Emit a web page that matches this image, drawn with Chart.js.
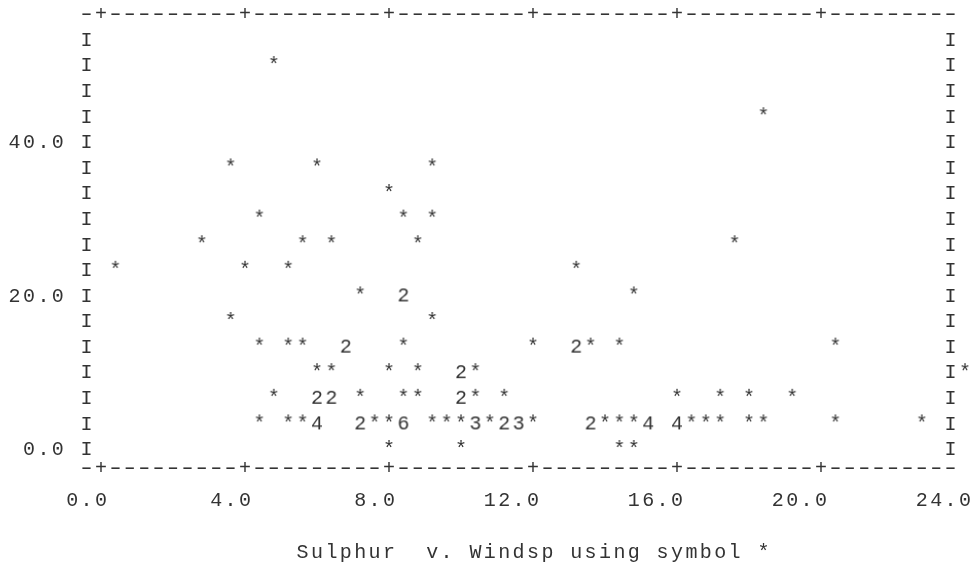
<!DOCTYPE html>
<html>
<head>
<meta charset="utf-8">
<script src="https://cdn.jsdelivr.net/npm/chart.js@4/dist/chart.umd.min.js"></script>
<style>
  html, body { margin: 0; padding: 0; background: #fff; }
  #wrap { width: 973px; height: 564px; }
</style>
</head>
<body>
<div id="wrap"><canvas id="plotChart"></canvas></div>
<script>
// one entry per observation (wind speed, sulphur)
var windsp = [
  4.8,
  18.4,
  3.6, 6.0, 9.2,
  8.0,
  4.4, 8.4, 9.2,
  2.8, 5.6, 6.4, 8.8, 17.6,
  0.4, 4.0, 5.2, 13.2,
  7.2, 8.4, 8.4, 14.8,
  3.6, 9.2,
  4.4, 5.2, 5.6, 6.8, 6.8, 8.4, 12.0, 13.2, 13.2, 13.6, 14.4, 20.4,
  6.0, 6.4, 8.0, 8.8, 10.0, 10.0, 10.4, 24.0,
  4.8, 6.0, 6.0, 6.4, 6.4, 7.2, 8.4, 8.8, 10.0, 10.0, 10.4, 11.2, 16.0, 17.2, 18.0, 19.2,
  4.4, 5.2, 5.6, 6.0, 6.0, 6.0, 6.0, 7.2, 7.2, 7.6, 8.0, 8.4, 8.4, 8.4, 8.4, 8.4, 8.4,
  9.2, 9.6, 10.0, 10.4, 10.4, 10.4, 10.8, 11.2, 11.2, 11.6, 11.6, 11.6, 12.0,
  13.6, 13.6, 14.0, 14.4, 14.8, 15.2, 15.2, 15.2, 15.2, 16.0, 16.0, 16.0, 16.0,
  16.4, 16.8, 17.2, 18.0, 18.4, 20.4, 22.8,
  8.0, 10.0, 14.4, 14.8
];
var sulphur = [
  50.0,
  43.3,
  36.7, 36.7, 36.7,
  33.3,
  30.0, 30.0, 30.0,
  26.7, 26.7, 26.7, 26.7, 26.7,
  23.3, 23.3, 23.3, 23.3,
  20.0, 20.0, 20.0, 20.0,
  16.7, 16.7,
  13.3, 13.3, 13.3, 13.3, 13.3, 13.3, 13.3, 13.3, 13.3, 13.3, 13.3, 13.3,
  10.0, 10.0, 10.0, 10.0, 10.0, 10.0, 10.0, 10.0,
  6.7, 6.7, 6.7, 6.7, 6.7, 6.7, 6.7, 6.7, 6.7, 6.7, 6.7, 6.7, 6.7, 6.7, 6.7, 6.7,
  3.3, 3.3, 3.3, 3.3, 3.3, 3.3, 3.3, 3.3, 3.3, 3.3, 3.3, 3.3, 3.3, 3.3, 3.3, 3.3, 3.3,
  3.3, 3.3, 3.3, 3.3, 3.3, 3.3, 3.3, 3.3, 3.3, 3.3, 3.3, 3.3, 3.3,
  3.3, 3.3, 3.3, 3.3, 3.3, 3.3, 3.3, 3.3, 3.3, 3.3, 3.3, 3.3, 3.3,
  3.3, 3.3, 3.3, 3.3, 3.3, 3.3, 3.3,
  0.0, 0.0, 0.0, 0.0
];
var xTicks = [0, 4, 8, 12, 16, 20, 24];
var xTickLabels = ['0.0', '4.0', '8.0', '12.0', '16.0', '20.0', '24.0'];
var yTicks = [0, 20, 40];
var yTickLabels = ['0.0', '20.0', '40.0'];
var title = 'Sulphur  v. Windsp using symbol *';

// line-printer grid: one column is 0.4 wind units, one line is 10/3 sulphur units
var X_STEP = 0.4;
var Y_STEP = 10 / 3;
var Y_TOP = 160 / 3;
var LAST_COL = 59;
var LAST_ROW = 16;
var FONT = '20px "Courier New", "Liberation Mono", monospace';
var INK = '#333';

// bin observations into print cells; repeats show as a count
var cells = {};
windsp.forEach(function (w, i) {
  var col = Math.round(w / X_STEP);
  var row = Math.round((Y_TOP - sulphur[i]) / Y_STEP);
  var key = col + ':' + row;
  if (!cells[key]) cells[key] = { x: col * X_STEP, y: Y_TOP - row * Y_STEP, n: 0 };
  cells[key].n++;
});
var points = Object.keys(cells).map(function (k) { return cells[k]; });

var glyphCache = {};
function glyph(ch) {
  if (!glyphCache[ch]) {
    var c = document.createElement('canvas');
    c.width = 16;
    c.height = 26;
    var g = c.getContext('2d');
    g.font = FONT;
    g.fillStyle = INK;
    g.textAlign = 'center';
    g.textBaseline = 'middle';
    g.fillText(ch, 8, 13);
    glyphCache[ch] = c;
  }
  return glyphCache[ch];
}

// frame, tick labels and caption drawn as characters on the same grid
var asciiFrame = {
  id: 'asciiFrame',
  beforeDatasetsDraw: function (chart) {
    var ctx = chart.ctx, xs = chart.scales.x, ys = chart.scales.y;
    function colPx(col) { return xs.getPixelForValue(col * X_STEP); }
    function rowPx(row) { return ys.getPixelForValue(Y_TOP - row * Y_STEP); }
    function put(str, col, py) {
      for (var i = 0; i < str.length; i++) {
        var ch = str[i];
        if (ch === ' ') continue;
        if (ch === '-') {
          // printer dashes run nearly the full cell width
          ctx.save();
          ctx.translate(colPx(col + i), py);
          ctx.scale(1.5, 1);
          ctx.fillText(ch, 0, 0);
          ctx.restore();
        } else {
          ctx.fillText(ch, colPx(col + i), py);
        }
      }
    }
    ctx.save();
    ctx.font = FONT;
    ctx.fillStyle = INK;
    ctx.textAlign = 'center';
    ctx.textBaseline = 'middle';

    var rule = '';
    for (var c = -1; c <= LAST_COL; c++) rule += (c % 10 === 0) ? '+' : '-';
    put(rule, -1, rowPx(-1));
    put(rule, -1, rowPx(LAST_ROW + 0.72));

    for (var r = 0; r <= LAST_ROW; r++) {
      put('I', -1, rowPx(r));
      put('I', LAST_COL, rowPx(r));
    }

    yTicks.forEach(function (v, i) {
      var s = yTickLabels[i];
      put(s, -2 - s.length, ys.getPixelForValue(v));
    });
    xTicks.forEach(function (v, i) {
      var s = xTickLabels[i];
      put(s, Math.round(v / X_STEP) - s.length + 1, rowPx(LAST_ROW + 2));
    });

    put(title, 14, rowPx(LAST_ROW + 4));
    ctx.restore();
  }
};

new Chart(document.getElementById('plotChart'), {
  type: 'scatter',
  data: {
    datasets: [{
      data: points,
      pointStyle: function (ctx) {
        var n = ctx.raw ? ctx.raw.n : 1;
        return glyph(n > 1 ? String(n) : '*');
      },
      pointRadius: 6,
      pointHoverRadius: 6,
      clip: false
    }]
  },
  options: {
    responsive: true,
    maintainAspectRatio: false,
    animation: false,
    devicePixelRatio: 1,
    layout: { autoPadding: false, padding: { left: 11, right: 8, top: 0, bottom: 0 } },
    scales: {
      x: { type: 'linear', display: false, min: -2.5, max: 24 },
      y: { type: 'linear', display: false, min: -14.85, max: 58.6 }
    },
    plugins: {
      legend: { display: false },
      tooltip: { enabled: false }
    }
  },
  plugins: [asciiFrame]
});
</script>
</body>
</html>
